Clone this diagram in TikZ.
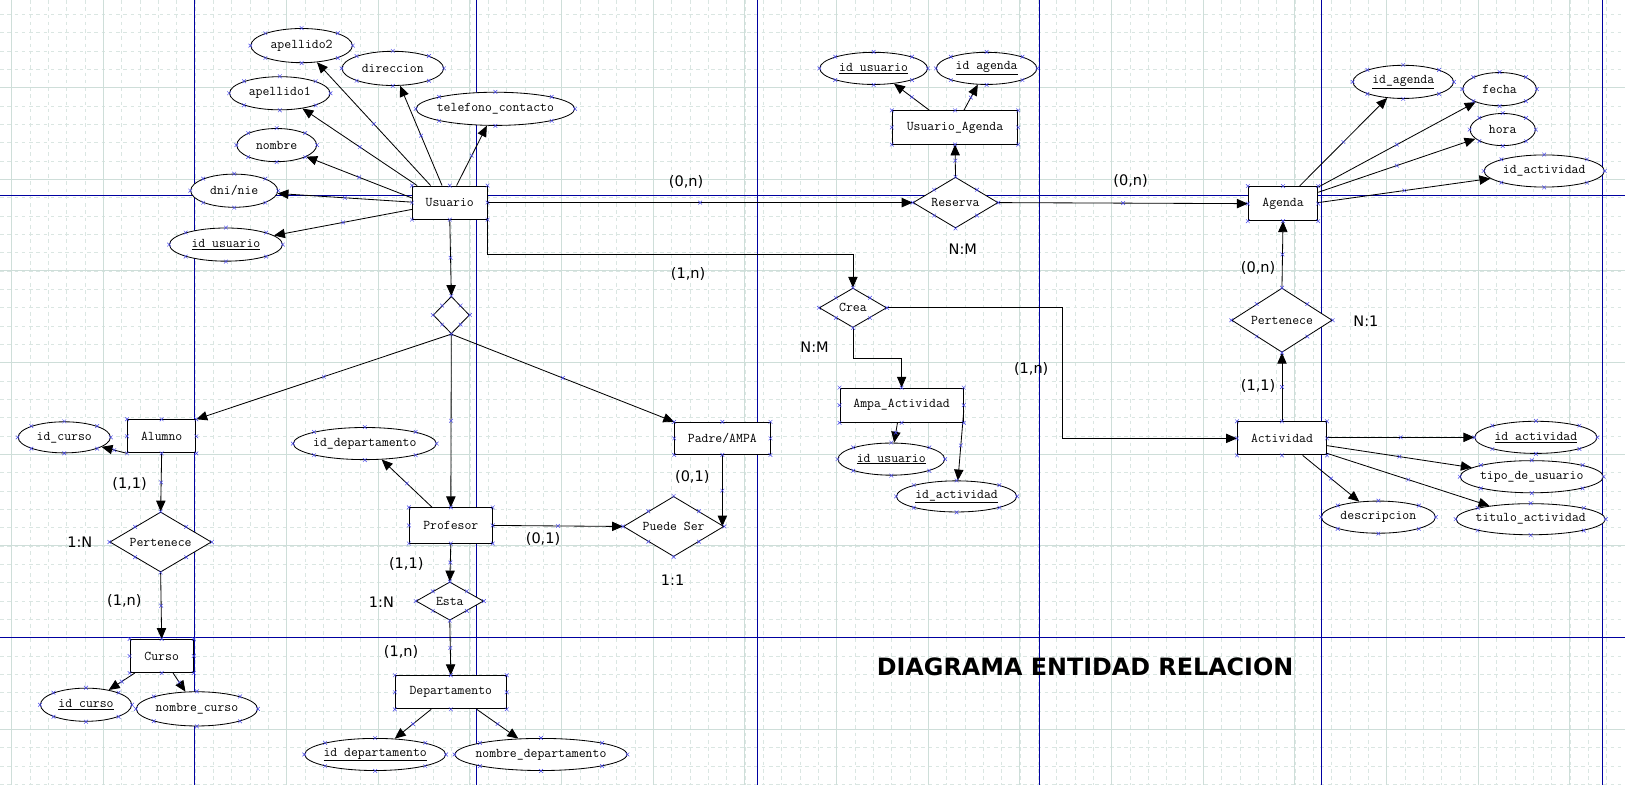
\documentclass[tikz,border=0pt]{standalone}
\usepackage{fontspec}
\usetikzlibrary{shapes.geometric,shapes.misc,arrows.meta,calc}
\newfontfamily\cardf{DejaVu Sans}
\newcommand\monof{\ttfamily}
\definecolor{gridc}{RGB}{206,222,217}
\definecolor{gridm}{RGB}{218,230,226}
\definecolor{pageb}{RGB}{0,0,160}
\definecolor{xcol}{RGB}{70,70,235}
\newcommand\shapemarks[1]{\foreach \a in {north,south,east,west,north east,north west,south east,south west}{\node[xmk] at (#1.\a) {};}}
\tikzset{
  gridminor/.style={gridm, line width=0.6pt, dash pattern=on 3.5pt off 3.5pt},
  gridmajor/.style={gridc, line width=0.9pt},
  pagebr/.style={pageb, line width=1pt},
  ent/.style={rectangle, draw, fill=white, line width=0.9pt, inner sep=0pt, font=\monof\fontsize{12.9}{14}\selectfont},
  attr/.style={ellipse, draw, fill=white, line width=0.8pt, inner xsep=-12pt, inner ysep=0pt, font=\monof\fontsize{12.9}{14}\selectfont},
  rel/.style={diamond, draw, fill=white, line width=0.8pt, inner sep=0pt, font=\monof\fontsize{12.9}{14}\selectfont},
  card/.style={font=\cardf\fontsize{14}{16}\selectfont, inner sep=0pt},
  arr/.style={-{Triangle[length=10.5pt,width=9pt]}, line width=0.8pt},
  xmk/.style={cross out, draw=xcol, line width=0.45pt, minimum size=3.6pt, inner sep=0pt, outer sep=0pt},
}
\begin{document}
\begin{tikzpicture}[x=1pt,y=-1pt]
\useasboundingbox (0,0) rectangle (1568,757);
\fill[white] (0,0) rectangle (1568,757);
% grid
\foreach \i in {0,...,88} \draw[gridminor] ({11.1+17.69*\i},0) -- ++(0,757);
\foreach \j in {0,...,42} \draw[gridminor] (0,{13.66+17.69*\j}) -- ++(1568,0);
\foreach \i in {0,...,17} \draw[gridmajor] ({11.1+88.45*\i},0) -- ++(0,757);
\foreach \j in {0,...,7} \draw[gridmajor] (0,{84.4+88.45*\j}) -- ++(1568,0);
\foreach \xx in {187.6,459.9,730.7,1002.8,1275.3,1546.4} \draw[pagebr] (\xx,0) -- ++(0,757);
\foreach \yy in {188.8,615} \draw[pagebr] (0,\yy) -- ++(1568,0);

% entities
\node[ent, minimum width=72, minimum height=32] (usu) at (434,195.5) {Usuario};
\node[ent, minimum width=121, minimum height=32] (ua) at (921.5,123) {Usuario\_Agenda};
\node[ent, minimum width=67, minimum height=33] (ag) at (1238,196.5) {Agenda};
\node[ent, minimum width=86, minimum height=32] (act) at (1237,423) {Actividad};
\node[ent, minimum width=119, minimum height=33] (amp) at (870,391) {Ampa\_Actividad};
\node[ent, minimum width=66, minimum height=32] (al) at (156,421) {Alumno};
\node[ent, minimum width=61, minimum height=32] (cu) at (156,633) {Curso};
\node[ent, minimum width=80, minimum height=34] (pr) at (435,507) {Profesor};
\node[ent, minimum width=92, minimum height=31] (pad) at (697,423) {Padre/AMPA};
\node[ent, minimum width=107, minimum height=32] (dep) at (435,668) {Departamento};

% relations
\node[rel, aspect=1.67, minimum width=82, minimum height=49] (res) at (922,195.5) {Reserva};
\node[rel, aspect=1.56, minimum width=97, minimum height=62] (pert2) at (1237,309) {Pertenece};
\node[rel, aspect=1.71, minimum width=65, minimum height=38] (crea) at (823,297) {Crea};
\node[rel, aspect=1, minimum width=35, minimum height=36] (isa) at (435.5,304) {};
\node[rel, aspect=1.69, minimum width=98, minimum height=58] (pert1) at (155,523) {Pertenece};
\node[rel, aspect=1.67, minimum width=97, minimum height=58] (pue) at (650,508) {Puede Ser};
\node[rel, aspect=1.76, minimum width=65, minimum height=37] (est) at (434,580) {Esta};

% attributes
\node[attr, minimum width=98, minimum height=33] (ap2) at (291,44) {apellido2};
\node[attr, minimum width=98, minimum height=33] (dir) at (379,66) {direccion};
\node[attr, minimum width=97, minimum height=32] (ap1) at (270,90) {apellido1};
\node[attr, minimum width=153, minimum height=32] (tel) at (478,105) {telefono\_contacto};
\node[attr, minimum width=77, minimum height=32] (nom) at (267,140) {nombre};
\node[attr, minimum width=84, minimum height=32] (dni) at (226,184) {dni/nie};
\node[attr, minimum width=109, minimum height=32] (idu) at (218,236) {\underline{id usuario}};
\node[attr, minimum width=104, minimum height=31] (uaidu) at (843,66) {\underline{id usuario}};
\node[attr, minimum width=97, minimum height=31] (uaida) at (952,66) {\underline{id agenda}};
\node[attr, minimum width=97, minimum height=32] (agida) at (1354,79) {\underline{id\_agenda}};
\node[attr, minimum width=71, minimum height=32] (fec) at (1447,86) {fecha};
\node[attr, minimum width=63, minimum height=31] (hor) at (1450,125) {hora};
\node[attr, minimum width=116, minimum height=31] (agidact) at (1490,165) {id\_actividad};
\node[attr, minimum width=118, minimum height=31] (actid) at (1482,422) {\underline{id actividad}};
\node[attr, minimum width=138, minimum height=31] (tipo) at (1478,460) {tipo\_de\_usuario};
\node[attr, minimum width=144, minimum height=30] (tit) at (1477,501) {titulo\_actividad};
\node[attr, minimum width=110, minimum height=31] (desc) at (1330,499) {descripcion};
\node[attr, minimum width=103, minimum height=31] (ampidu) at (860,443) {\underline{id usuario}};
\node[attr, minimum width=116, minimum height=30] (ampida) at (923,479) {\underline{id\_actividad}};
\node[attr, minimum width=89, minimum height=30] (alidc) at (62,422) {id\_curso};
\node[attr, minimum width=88, minimum height=32] (cuidc) at (83,680) {\underline{id curso}};
\node[attr, minimum width=117, minimum height=33] (cunom) at (190,684) {nombre\_curso};
\node[attr, minimum width=138, minimum height=31] (pridd) at (352,428) {id\_departamento};
\node[attr, minimum width=136, minimum height=31] (depidd) at (362,728) {\underline{id departamento}};
\node[attr, minimum width=166, minimum height=31] (depnom) at (522,728) {nombre\_departamento};

% attribute connectors
\draw[arr] ([xshift=5pt]usu.north west) -- (ap1) node[xmk,pos=.5]{};
\draw[arr] ([xshift=18pt]usu.north west) -- (ap2) node[xmk,pos=.5]{};
\draw[arr] ([xshift=29pt]usu.north west) -- (dir) node[xmk,pos=.5]{};
\draw[arr] ([xshift=43pt]usu.north west) -- (tel) node[xmk,pos=.5]{};
\draw[arr] ([yshift=-12pt]usu.north west) -- (nom) node[xmk,pos=.5]{};
\draw[arr] ([yshift=-16pt]usu.north west) -- (dni) node[xmk,pos=.5]{};
\draw[arr] ([yshift=-23pt]usu.north west) -- (idu) node[xmk,pos=.5]{};
\draw[arr] ([xshift=-24.5pt]ua.north) -- (uaidu) node[xmk,pos=.5]{};
\draw[arr] ([xshift=8.5pt]ua.north) -- (uaida) node[xmk,pos=.5]{};
\draw[arr] ([xshift=-18pt]ag.north east) -- (agida) node[xmk,pos=.5]{};
\draw[arr] ([yshift=-1pt]ag.north east) -- (fec) node[xmk,pos=.5]{};
\draw[arr] ([yshift=-6pt]ag.north east) -- (hor) node[xmk,pos=.5]{};
\draw[arr] ([yshift=1pt]ag.east) -- (agidact) node[xmk,pos=.5]{};
\draw[arr] ([yshift=1pt]act.east) -- (actid.west) node[xmk,pos=.5]{};
\draw[arr] ([yshift=-7pt]act.east) -- (tipo) node[xmk,pos=.5]{};
\draw[arr] ([yshift=2pt]act.south east) -- (tit) node[xmk,pos=.5]{};
\draw[arr] ([xshift=20pt]act.south) -- (desc) node[xmk,pos=.5]{};
\draw[arr] ([xshift=-4pt]amp.south) -- (ampidu) node[xmk,pos=.5]{};
\draw[arr] ([yshift=-5pt]amp.east) -- (ampida) node[xmk,pos=.5]{};
\draw[arr] (al.south west) -- (alidc) node[xmk,pos=.5]{};
\draw[arr] ([xshift=5pt]cu.south west) -- (cuidc) node[xmk,pos=.5]{};
\draw[arr] ([xshift=11pt]cu.south) -- (cunom) node[xmk,pos=.5]{};
\draw[arr] ([xshift=-18pt]pr.north) -- (pridd) node[xmk,pos=.5]{};
\draw[arr] ([xshift=-19pt]dep.south) -- (depidd) node[xmk,pos=.5]{};
\draw[arr] ([xshift=25pt]dep.south) -- (depnom) node[xmk,pos=.5]{};

% relation connectors
\draw[arr] (usu.east) -- (res.west) node[xmk,pos=.5]{};
\draw[arr] (res.east) -- (ag.west) node[xmk,pos=.5]{};
\draw[arr] (res.north) -- (ua.south) node[xmk,pos=.5]{};
\draw[arr] (pert2.north) -- (ag.south) node[xmk,pos=.5]{};
\draw[arr] (act.north) -- (pert2.south) node[xmk,pos=.5]{};
\draw[arr] (usu.south) -- (isa.north) node[xmk,pos=.5]{};
\draw[arr] (isa.south) -- (al.north east) node[xmk,pos=.5]{};
\draw[arr] (isa.south) -- (pr.north) node[xmk,pos=.5]{};
\draw[arr] (isa.south) -- (pad.north west) node[xmk,pos=.5]{};
\draw[arr] (al.south) -- (pert1.north) node[xmk,pos=.5]{};
\draw[arr] (pert1.south) -- (cu.north) node[xmk,pos=.5]{};
\draw[arr] (pr.east) -- (pue.west) node[xmk,pos=.5]{};
\draw[arr] (pad.south) -- (pad.south |- pue.east) node[xmk,pos=.5]{};
\draw[arr] (pr.south) -- (est.north) node[xmk,pos=.5]{};
\draw[arr] (est.south) -- (dep.north) node[xmk,pos=.5]{};
\draw[arr] (usu.south east) -- ++(0,33.5) -| (crea.north);
\draw[arr] (crea.south) -- ++(0,29) -| (amp.north);
\draw[arr] (crea.east) -- ++(169.5,0) |- (act.west);

% shape handles
\foreach \n in {usu,ua,ag,act,amp,al,cu,pr,pad,dep,res,pert2,crea,isa,pert1,pue,est,ap2,dir,ap1,tel,nom,dni,idu,uaidu,uaida,agida,fec,hor,agidact,actid,tipo,tit,desc,ampidu,ampida,alidc,cuidc,cunom,pridd,depidd,depnom} {\shapemarks{\n}}

% cardinalities
\node[card] (l1) at (662,176) {(0,n)};
\node[card] (l2) at (1091,175) {(0,n)};
\node[card] (l3) at (929,240) {N:M};
\node[card] (l4) at (664,264) {(1,n)};
\node[card] (l5) at (1214,259) {(0,n)};
\node[card] (l6) at (1318,310) {N:1};
\node[card] (l7) at (1214,372) {(1,1)};
\node[card] (l8) at (786,335) {N:M};
\node[card] (l9) at (995,356) {(1,n)};
\node[card] (l10) at (125,467) {(1,1)};
\node[card] (l11) at (77,523) {1:N};
\node[card] (l12) at (120,580) {(1,n)};
\node[card] (l13) at (524,520) {(0,1)};
\node[card] (l14) at (668,460) {(0,1)};
\node[card] (l15) at (649,560) {1:1};
\node[card] (l16) at (392,544) {(1,1)};
\node[card] (l17) at (368,581) {1:N};
\node[card] (l18) at (387,629) {(1,n)};

\node[font=\cardf\bfseries\fontsize{23}{26}\selectfont, inner sep=0pt] (title) at (1047,643) {DIAGRAMA ENTIDAD RELACION};
\end{tikzpicture}
\end{document}
